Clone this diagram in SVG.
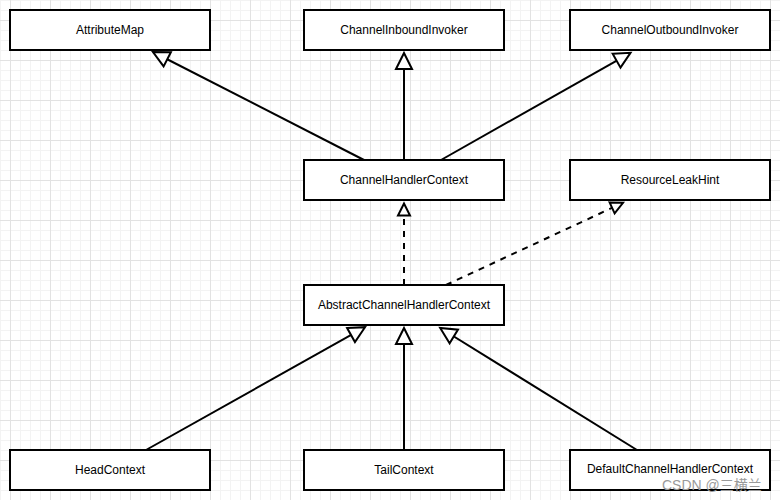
<svg xmlns="http://www.w3.org/2000/svg" width="780" height="500" viewBox="0 0 780 500">
<defs>
<pattern id="grid" patternUnits="userSpaceOnUse" x="10" y="20" width="40" height="40">
<rect x="0" y="0" width="40" height="40" fill="#ffffff"/>
<rect x="10" y="0" width="1" height="40" fill="#f3f3f3"/>
<rect x="20" y="0" width="1" height="40" fill="#f3f3f3"/>
<rect x="30" y="0" width="1" height="40" fill="#f3f3f3"/>
<rect x="0" y="10" width="40" height="1" fill="#f3f3f3"/>
<rect x="0" y="20" width="40" height="1" fill="#f3f3f3"/>
<rect x="0" y="30" width="40" height="1" fill="#f3f3f3"/>
<rect x="0" y="0" width="1" height="40" fill="#e2e2e2"/>
<rect x="0" y="0" width="40" height="1" fill="#e2e2e2"/>
</pattern>
<marker id="ext" markerUnits="userSpaceOnUse" markerWidth="20" markerHeight="20" refX="16" refY="0" orient="auto" overflow="visible">
<path d="M0,-8 L16,0 L0,8 Z" fill="#ffffff" stroke="#000000" stroke-width="2" stroke-dasharray="none"/>
</marker>
<marker id="impl" markerUnits="userSpaceOnUse" markerWidth="16" markerHeight="16" refX="12" refY="0" orient="auto" overflow="visible">
<path d="M0,-6 L12,0 L0,6 Z" fill="#ffffff" stroke="#000000" stroke-width="2" stroke-dasharray="none"/>
</marker>
</defs>
<style>
.box rect { fill: #ffffff; stroke: #000000; stroke-width: 2; }
.box text { font-family: "Liberation Sans", Arial, sans-serif; font-size: 12px; fill: #000000; text-anchor: middle; }
.edge { fill: none; stroke: #000000; stroke-width: 2; }
.solid { marker-end: url(#ext); }
.dashed { stroke-dasharray: 6 6; marker-end: url(#impl); }
.wm { font-family: "Liberation Sans", Arial, "Noto Sans CJK SC", sans-serif; font-size: 14px; fill: #9a9a9a; }
</style>
<rect x="0" y="0" width="780" height="500" fill="url(#grid)"/>
<g id="connectors">
<line class="edge solid" x1="364" y1="160" x2="153" y2="52"/>
<line class="edge solid" x1="404" y1="160" x2="404" y2="53"/>
<line class="edge solid" x1="441" y1="160" x2="630.5" y2="52.8"/>
<line class="edge dashed" x1="404" y1="285" x2="404" y2="203.5"/>
<line class="edge dashed" x1="446" y1="285" x2="623" y2="202.8"/>
<line class="edge solid" x1="146" y1="450" x2="365" y2="327.2"/>
<line class="edge solid" x1="404" y1="450" x2="404" y2="328"/>
<line class="edge solid" x1="637" y1="450" x2="440.2" y2="328"/>
</g>
<g id="AttributeMap" class="box"><rect x="10" y="10" width="200" height="40"/><text x="110" y="34">AttributeMap</text></g>
<g id="ChannelInboundInvoker" class="box"><rect x="304" y="10" width="200" height="40"/><text x="404" y="34">ChannelInboundInvoker</text></g>
<g id="ChannelOutboundInvoker" class="box"><rect x="570" y="10" width="200" height="40"/><text x="670" y="34">ChannelOutboundInvoker</text></g>
<g id="ChannelHandlerContext" class="box"><rect x="304" y="160" width="200" height="40"/><text x="404" y="184">ChannelHandlerContext</text></g>
<g id="ResourceLeakHint" class="box"><rect x="570" y="160" width="200" height="40"/><text x="670" y="184">ResourceLeakHint</text></g>
<g id="AbstractChannelHandlerContext" class="box"><rect x="304" y="285" width="200" height="40"/><text x="404" y="309">AbstractChannelHandlerContext</text></g>
<g id="HeadContext" class="box"><rect x="10" y="450" width="200" height="40"/><text x="110" y="474">HeadContext</text></g>
<g id="TailContext" class="box"><rect x="304" y="450" width="200" height="40"/><text x="404" y="474">TailContext</text></g>
<g id="DefaultChannelHandlerContext" class="box"><rect x="570" y="450" width="200" height="40"/><text x="670" y="473">DefaultChannelHandlerContext</text></g>
<text class="wm" x="662" y="490">CSDN @三横兰</text>
</svg>
